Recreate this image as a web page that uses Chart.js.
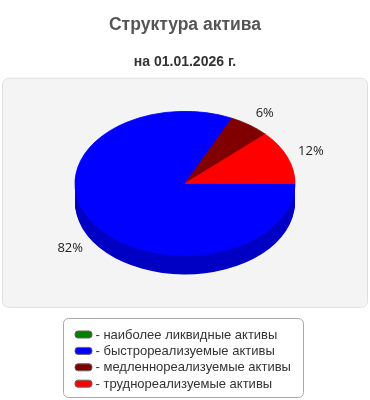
<!DOCTYPE html>
<html>
<head>
<meta charset="utf-8">
<script src="https://cdn.jsdelivr.net/npm/chart.js@4/dist/chart.umd.min.js"></script>
<style>
  html, body { margin: 0; padding: 0; background: #fff; }
  #wrap { width: 370px; height: 400px; }
</style>
</head>
<body>
<div id="wrap"><canvas id="myChart"></canvas></div>
<script>
// data
const titleText = 'Структура актива';
const subtitleText = 'на 01.01.2026 г.';
const labels = ['наиболее ликвидные активы', 'быстрореализуемые активы', 'медленнореализуемые активы', 'труднореализуемые активы'];
const shares = [0.2, 82, 6, 12];
const colors = ['#008000', '#0000ff', '#800000', '#ff0000'];
const sideColors = ['#006000', '#0000c4', '#600000', '#c40000'];

// 3d look
const tilt = 0.655;   // vertical squash of the pie
const depth = 19;     // thickness in px

const pie3d = {
  id: 'pie3d',
  beforeDraw(chart) {
    // grey panel behind the pie
    const {ctx, chartArea: a} = chart;
    ctx.save();
    ctx.beginPath();
    ctx.roundRect(a.left + 2.5, a.top + 4.5, a.width - 5, 229, 6);
    ctx.fillStyle = '#f4f4f4';
    ctx.fill();
    ctx.strokeStyle = '#e0e0e0';
    ctx.lineWidth = 1;
    ctx.stroke();
    ctx.restore();
  },
  beforeDatasetsDraw(chart) {
    const ctx = chart.ctx;
    const arcs = chart.getDatasetMeta(0).data;
    const {x, y} = arcs[0];
    ctx.save();
    ctx.translate(x, y);
    ctx.scale(1, tilt);
    ctx.translate(-x, -y);
    // side wall: stack of darker copies, deepest first
    for (let d = depth; d > 0; d--) {
      arcs.forEach((arc, i) => {
        const oy = arc.y + d / tilt;
        ctx.beginPath();
        ctx.moveTo(arc.x, oy);
        ctx.arc(arc.x, oy, arc.outerRadius, arc.startAngle, arc.endAngle);
        ctx.closePath();
        ctx.fillStyle = sideColors[i];
        ctx.fill();
      });
    }
  },
  afterDatasetsDraw(chart) {
    const ctx = chart.ctx;
    ctx.restore();
    // percent labels outside the pie
    const arcs = chart.getDatasetMeta(0).data;
    const total = shares.reduce((s, v) => s + v, 0);
    ctx.save();
    ctx.font = '13px "Open Sans", sans-serif';
    ctx.fillStyle = '#222';
    ctx.textAlign = 'center';
    ctx.textBaseline = 'middle';
    arcs.forEach((arc, i) => {
      const pct = Math.round(shares[i] / total * 100);
      if (!pct) return;
      const mid = (arc.startAngle + arc.endAngle) / 2;
      const c = Math.cos(mid), s = Math.sin(mid);
      const lx = arc.x + c * arc.outerRadius * 1.23;
      const ly = arc.y + s * arc.outerRadius * tilt * 1.2 + (s > 0 ? depth : 0);
      ctx.fillText(pct + '%', lx, ly);
    });
    ctx.restore();
  },
  afterDraw(chart) {
    // legend box under the panel
    const ctx = chart.ctx;
    const boxW = 240, boxH = 79;
    const left = Math.round((chart.width - boxW) / 2) - 1.5;
    const top = chart.chartArea.bottom + 25.5;
    ctx.save();
    ctx.beginPath();
    ctx.roundRect(left, top, boxW, boxH, 5);
    ctx.fillStyle = '#fff';
    ctx.fill();
    ctx.strokeStyle = '#a8a8a8';
    ctx.lineWidth = 1;
    ctx.stroke();
    ctx.font = '13px "Liberation Sans", Arial, sans-serif';
    ctx.textBaseline = 'middle';
    labels.forEach((lab, i) => {
      const cy = top + 16 + i * 16.4;
      ctx.beginPath();
      ctx.roundRect(left + 11.5, cy - 3.5, 17, 7, 3);
      ctx.fillStyle = colors[i];
      ctx.fill();
      ctx.strokeStyle = '#666';
      ctx.stroke();
      ctx.fillStyle = '#333';
      ctx.fillText('- ' + lab, left + 32, cy + 0.5);
    });
    ctx.restore();
  }
};

const config = {
  type: 'pie',
  data: {
    labels: labels,
    datasets: [{
      data: shares,
      backgroundColor: colors,
      borderColor: colors,
      borderWidth: 1,
      hoverOffset: 0
    }]
  },
  options: {
    responsive: false,
    animation: false,
    rotation: 90,
    radius: 110,
    events: [],
    layout: { padding: { top: 0, bottom: 107, left: 0, right: 0 } },
    plugins: {
      legend: { display: false },
      tooltip: { enabled: false },
      title: {
        display: true,
        text: titleText,
        color: '#555',
        font: { family: '"Liberation Sans", Arial, sans-serif', size: 17.5, weight: 'bold' },
        padding: { top: 15, bottom: 15 }
      },
      subtitle: {
        display: true,
        text: subtitleText,
        color: '#333',
        font: { family: '"Liberation Sans", Arial, sans-serif', size: 14, weight: 'bold' },
        padding: { top: 3, bottom: 3 }
      }
    }
  },
  plugins: [pie3d]
};

const canvas = document.getElementById('myChart');
canvas.width = 370;
canvas.height = 400;
new Chart(canvas.getContext('2d'), config);
</script>
</body>
</html>
